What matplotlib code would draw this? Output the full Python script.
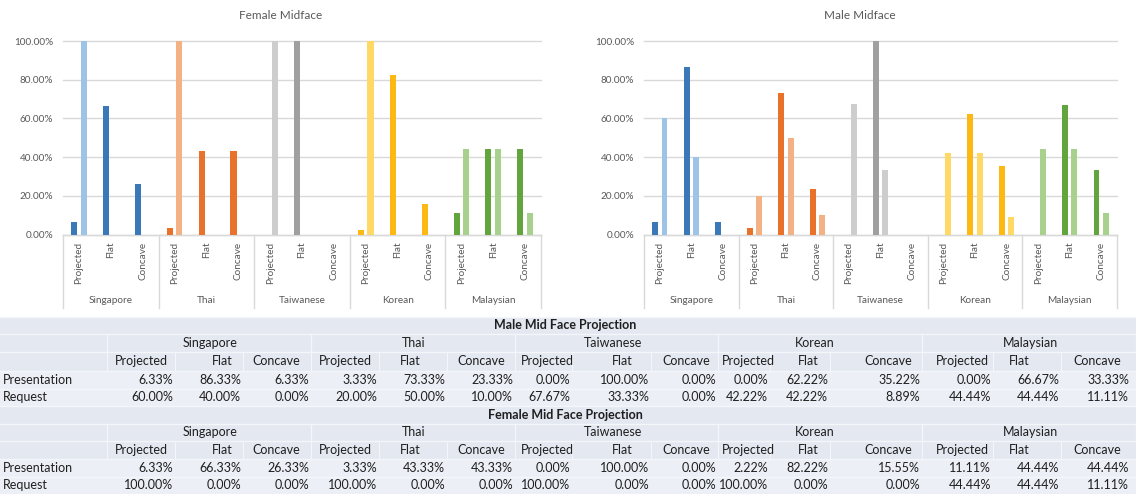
import matplotlib
matplotlib.use("Agg")
import matplotlib.pyplot as plt
import numpy as np
from matplotlib.patches import Rectangle
from matplotlib.ticker import PercentFormatter
from matplotlib.transforms import blended_transform_factory

plt.rcParams['font.family'] = ['Lato', 'DejaVu Sans']

# ---- data -------------------------------------------------------------
groups = ['Singapore', 'Thai', 'Taiwanese', 'Korean', 'Malaysian']
categories = ['Projected', 'Flat', 'Concave']
row_labels = ['Presentation', 'Request']

male_presentation = [6.33, 86.33, 6.33, 3.33, 73.33, 23.33, 0.00, 100.00, 0.00,
                     0.00, 62.22, 35.22, 0.00, 66.67, 33.33]
male_request = [60.00, 40.00, 0.00, 20.00, 50.00, 10.00, 67.67, 33.33, 0.00,
                42.22, 42.22, 8.89, 44.44, 44.44, 11.11]
female_presentation = [6.33, 66.33, 26.33, 3.33, 43.33, 43.33, 0.00, 100.00, 0.00,
                       2.22, 82.22, 15.55, 11.11, 44.44, 44.44]
female_request = [100.00, 0.00, 0.00, 100.00, 0.00, 0.00, 100.00, 0.00, 0.00,
                  100.00, 0.00, 0.00, 44.44, 44.44, 11.11]

# ---- styling ----------------------------------------------------------
dark_colors = ['#3B78B8', '#E8712B', '#A0A0A0', '#FDB813', '#62A53E']
light_colors = ['#9DC3E6', '#F4B183', '#CDCDCD', '#FFD966', '#A9D18E']
TXT = '#595959'
GRID = '#D9D9D9'

W, H = 1136, 494
fig = plt.figure(figsize=(W / 100, H / 100), dpi=100)
fig.patch.set_facecolor('white')


def px_axes(left, top, right, bottom):
    return fig.add_axes([left / W, 1 - bottom / H, (right - left) / W, (bottom - top) / H])


def draw_chart(left, right, title, pres, req):
    top, bottom = 41, 234.5
    ax = px_axes(left, top, right, bottom)
    n = len(groups) * len(categories)
    x = np.arange(n)
    dark = np.repeat(dark_colors, len(categories))
    light = np.repeat(light_colors, len(categories))
    off, bw = 0.15, 0.19
    ax.bar(x - off, np.array(pres) / 100, width=bw, color=dark, zorder=3)
    ax.bar(x + off, np.array(req) / 100, width=bw, color=light, zorder=3)

    ax.set_xlim(-0.5, n - 0.5)
    ax.set_ylim(0, 1.0)
    ax.set_yticks(np.linspace(0, 1, 6))
    ax.yaxis.set_major_formatter(PercentFormatter(1.0, decimals=2))
    ax.tick_params(axis='y', length=0, pad=7, labelsize=7.2, labelcolor=TXT)
    ax.yaxis.grid(True, color=GRID, linewidth=1.0, zorder=0)
    for gl in ax.get_ygridlines():
        gl.set_clip_on(False)

    ax.set_xticks(x)
    ax.set_xticklabels(categories * len(groups), rotation=90, fontsize=7.2, color=TXT,
                       va='top')
    ax.tick_params(axis='x', length=0, pad=5)

    for s in ['top', 'right', 'left']:
        ax.spines[s].set_visible(False)
    ax.spines['bottom'].set_color(GRID)
    ax.spines['bottom'].set_linewidth(1.0)

    # two-level category axis: group separators and group names
    trans = blended_transform_factory(ax.transData, ax.transAxes)
    depth = (308 - bottom) / (bottom - top)
    for k in range(len(groups) + 1):
        xb = k * len(categories) - 0.5
        ax.plot([xb, xb], [0, -depth], transform=trans, color=GRID, lw=1.0,
                clip_on=False)
    gy = -(300 - bottom) / (bottom - top)
    for k, g in enumerate(groups):
        ax.text(k * len(categories) + 1, gy, g, transform=trans, ha='center',
                va='center', fontsize=7.2, color=TXT)

    fig.text((left + right) / 2 / W - 21 / W, 1 - 15.5 / H, title, ha='center',
             va='center', fontsize=8.5, color=TXT)
    return ax


draw_chart(63, 541, 'Female Midface', female_presentation, female_request)
draw_chart(644, 1117, 'Male Midface', male_presentation, male_request)

# ---- summary table ----------------------------------------------------
tab = fig.add_axes([0, 0, 1, 1])
tab.set_xlim(0, W)
tab.set_ylim(H, 0)
tab.axis('off')

row_edges = [316.5, 333.5, 352, 370.5, 388.5, 406, 423.5, 441, 458.5, 476.5, 494]
col_edges = [107, 175, 243, 311, 379, 447, 515, 572, 651, 718, 770, 830, 922, 993, 1061, 1136]
group_edges = [107, 311, 515, 718, 922, 1136]
header_cx = [141.5, 222.6, 276, 345, 410, 481.6, 547, 622, 686,
             748, 808, 888, 962, 1019, 1097]
group_cx = [210, 414, 613, 815, 1030]
num_right = [175, 243, 311, 379, 447, 515, 572, 651, 718, 770, 830, 922, 993, 1061, 1131]

HEAD_FILL = '#E3E8F1'
DATA_FILL = '#ECEFF6'
LINE = '#F4F6FA'
FS = 9
INK = '#1F1F1F'


def block(r0, title, pres, req):
    kinds = ['head', 'head', 'head', 'data', 'data']
    for i, kind in enumerate(kinds):
        y0, y1 = row_edges[r0 + i], row_edges[r0 + i + 1]
        tab.add_patch(Rectangle((0, y0), W, y1 - y0,
                                facecolor=HEAD_FILL if kind == 'head' else DATA_FILL,
                                edgecolor='none', zorder=1))
        tab.plot([0, W], [y0, y0], color=LINE, lw=1.0, zorder=2)
    # cell borders: group spans in the group row, single columns in the sub-header row
    ya, yb, yc = row_edges[r0 + 1], row_edges[r0 + 2], row_edges[r0 + 3]
    for xe in group_edges:
        tab.plot([xe, xe], [ya, yb], color=LINE, lw=1.0, zorder=2)
    for xe in col_edges:
        tab.plot([xe, xe], [yb, yc], color=LINE, lw=0.8, zorder=2)

    def cy(i):
        return (row_edges[r0 + i] + row_edges[r0 + i + 1]) / 2

    tab.text(565.5, cy(0), title, ha='center', va='center', fontsize=FS,
             fontweight='bold', color=INK, zorder=3)
    for g, gx in zip(groups, group_cx):
        tab.text(gx, cy(1), g, ha='center', va='center', fontsize=FS,
                 color=INK, zorder=3)
    for j, hx in enumerate(header_cx):
        tab.text(hx, cy(2), categories[j % 3], ha='center', va='center', fontsize=FS,
                 color=INK, zorder=3)
    for i, (lab, vals) in enumerate(zip(row_labels, [pres, req])):
        tab.text(3, cy(3 + i), lab, ha='left', va='center', fontsize=FS,
                 color=INK, zorder=3)
        for j, v in enumerate(vals):
            tab.text(num_right[j] - 2, cy(3 + i), f'{v:.2f}%', ha='right',
                     va='center', fontsize=FS, color=INK, zorder=3)


block(0, 'Male Mid Face Projection', male_presentation, male_request)
block(5, 'Female Mid Face Projection', female_presentation, female_request)

fig.savefig('out.png', dpi=100, facecolor='white')
